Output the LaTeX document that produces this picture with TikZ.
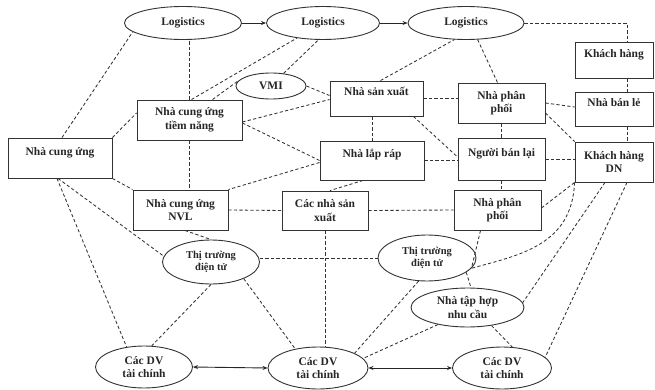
\documentclass[tikz,border=0pt]{standalone}
\usepackage{fontspec}
\setmainfont{Liberation Serif}
\usetikzlibrary{shapes.geometric,arrows.meta}
\tikzset{
  lbl/.style={font=\bfseries\fontsize{11.5}{13.5}\selectfont, text=black!85, align=center},
  box/.style={lbl, draw=black!80, line width=0.9pt, rectangle, inner sep=1pt},
  oval/.style={lbl, draw=black!80, line width=0.9pt, ellipse, inner sep=0pt},
  dline/.style={draw=black!80, line width=0.85pt, dash pattern=on 3.2pt off 2.3pt},
  arr/.style={draw=black!85, line width=0.9pt, -{Stealth[length=5pt,width=4pt]}},
  darr/.style={draw=black!85, line width=0.9pt, {Stealth[length=5pt,width=4pt]}-{Stealth[length=5pt,width=4pt]}}
}
\begin{document}
\begin{tikzpicture}[x=1pt,y=-1pt]
\useasboundingbox (0,0) rectangle (655,390);
\fill[white] (0,0) rectangle (655,390);
% boxes
\node[box, minimum width=104pt, minimum height=40pt] (ncu) at (60,158) {Nhà cung ứng\\\mbox{}};
\node[box, minimum width=105pt, minimum height=40pt] (ncutn) at (189.5,120) {Nhà cung ứng\\tiềm năng};
\node[box, minimum width=95pt, minimum height=40pt] (nvl) at (180.5,210) {Nhà cung ứng\\NVL};
\node[box, minimum width=93pt, minimum height=35pt] (nsx) at (376.5,98.5) {Nhà sản xuất\\\mbox{}};
\node[box, minimum width=104pt, minimum height=39pt] (nlr) at (372,160.5) {Nhà lắp ráp\\\mbox{}};
\node[box, minimum width=86pt, minimum height=39pt] (cnsx) at (325,210.5) {Các nhà sản\\xuất};
\node[box, minimum width=87pt, minimum height=40pt] (npp1) at (501.5,103) {Nhà phân\\phối};
\node[box, minimum width=87pt, minimum height=42pt] (nbl) at (501.5,159) {Người bán lại\\\mbox{}};
\node[box, minimum width=87pt, minimum height=40pt] (npp2) at (497.5,210) {Nhà phân\\phối};
\node[box, minimum width=78pt, minimum height=36pt] (khach) at (614,60) {Khách hàng\\\mbox{}};
\node[box, minimum width=78pt, minimum height=34pt] (banle) at (614,109) {Nhà bán lẻ\\\mbox{}};
\node[box, minimum width=78pt, minimum height=40pt] (khdn) at (614,162) {Khách hàng\\DN};
% ellipses
\node[oval, minimum width=117pt, minimum height=33pt] (log1) at (183,23) {Logistics};
\node[oval, minimum width=113pt, minimum height=33pt] (log2) at (323,23) {Logistics};
\node[oval, minimum width=116pt, minimum height=33pt] (log3) at (466,23) {Logistics};
\node[oval, minimum width=70pt, minimum height=26pt] (vmi) at (271,86) {VMI};
\node[oval, minimum width=97pt, minimum height=44pt, font=\bfseries\fontsize{10.5}{12.5}\selectfont] (tt1) at (211,262) {Thị trường\\điện tử};
\node[oval, minimum width=98pt, minimum height=46pt, font=\bfseries\fontsize{10.5}{12.5}\selectfont] (tt2) at (427,258) {Thị trường\\điện tử};
\node[oval, minimum width=113pt, minimum height=39pt] (nth) at (467.5,307.5) {Nhà tập hợp\\nhu cầu};
\node[oval, minimum width=97pt, minimum height=42pt] (dv1) at (144,367) {Các DV\\tài chính};
\node[oval, minimum width=100pt, minimum height=42pt] (dv2) at (318,368) {Các DV\\tài chính};
\node[oval, minimum width=99pt, minimum height=42pt] (dv3) at (502,368) {Các DV\\tài chính};
% solid arrows
\draw[arr] (log1.east) -- (log2.west);
\draw[arr] (log2.east) -- (log3.west);
\draw[darr] (dv1.east) -- (dv2.west);
\draw[darr] (dv2.east) -- (dv3.west);
% dashed connectors
\draw[dline] (log3.east) -| ([xshift=13pt]khach.north);
\draw[dline] ([xshift=13pt]khach.south) -- ([xshift=13pt]banle.north);
\draw[dline] ([xshift=13pt]banle.south) -- ([xshift=13pt]khdn.north);
\draw[dline] ([xshift=2pt]ncu.north) -- (log1.190);
\draw[dline] (ncutn.north) -- (ncutn.north |- log1.south);
\draw[dline] ([xshift=2pt]ncutn.north) -- (log2.210);
\draw[dline] (vmi.45) -- (log2.255);
\draw[dline] ([xshift=23pt]ncutn.north) -- (vmi.170);
\draw[dline] (vmi.east) -- ([yshift=3pt]nsx.west);
\draw[dline] ([yshift=-2pt]ncutn.east) -- ([yshift=-1pt]nsx.west);
\draw[dline] ([yshift=-3pt]ncutn.east) -- (nlr.west);
\draw[dline] (ncu.north east) -- ([yshift=7pt]ncutn.west);
\draw[dline] (ncu.south east) -- (nvl.north west);
\draw[dline] (ncutn.south) -- (ncutn.south |- nvl.north);
\draw[dline] ([yshift=-2pt]nlr.west) -- (nvl.north east);
\draw[dline] (nvl.east) -- (cnsx.west);
\draw[dline] ([xshift=-9pt]nlr.south) -- ([xshift=5pt]cnsx.north);
\draw[dline] (nlr.north |- nsx.south) -- (nlr.north);
\draw[dline] (nsx.east) -- (nsx.east -| npp1.west);
\draw[dline] ([xshift=-10pt]nsx.south east) -- ([yshift=2pt]nbl.west);
\draw[dline] (nlr.east) -- (nlr.east -| nbl.west);
\draw[dline] ([xshift=4pt]nsx.north) -- (log3.235);
\draw[dline] (log3.305) -- ([xshift=-4pt]npp1.north);
\draw[dline] (npp1.east) -- ([yshift=2pt]banle.west);
\draw[dline] ([yshift=-10pt]npp1.east) -- (khdn.north west);
\draw[dline] (npp1.south) -- (nbl.north);
\draw[dline] (nbl.east) -- (nbl.east -| khdn.west);
\draw[dline] (nbl.south) -- (nbl.south |- npp2.north);
\draw[dline] (cnsx.east) -- (npp2.west);
\draw[dline] ([yshift=2pt]npp2.east) -- (khdn.south west);
\draw[dline] (khdn.south west) .. controls (572,245) and (520,255) .. (tt2.347);
\draw[dline] ([xshift=-9pt]khdn.south) -- (nth.5);
\draw[dline] ([xshift=13pt]khdn.south) -- (dv3.14);
\draw[dline] ([xshift=-3pt]ncu.south) -- (dv1.131);
\draw[dline] ([xshift=-2pt]ncu.south) -- (tt1.173);
\draw[dline] ([xshift=4.5pt]nvl.south) -- (tt1.north);
\draw[dline] (tt1.east |- tt2.west) -- (tt2.west);
\draw[dline] (cnsx.south) -- (cnsx.south |- dv2.north);
\draw[dline] (tt1.south) -- (dv1.70);
\draw[dline] (tt1.333) -- (dv2.140);
\draw[dline] (tt2.250) -- (dv2.22);
\draw[dline] (nth.210) -- (dv2.12);
\draw[dline] (nth.323) -- (dv3.64);
\draw[dline] (tt2.340) -- (nth.80);
\draw[dline] ([xshift=-17pt]npp2.south) -- (tt2.347);
\end{tikzpicture}
\end{document}
